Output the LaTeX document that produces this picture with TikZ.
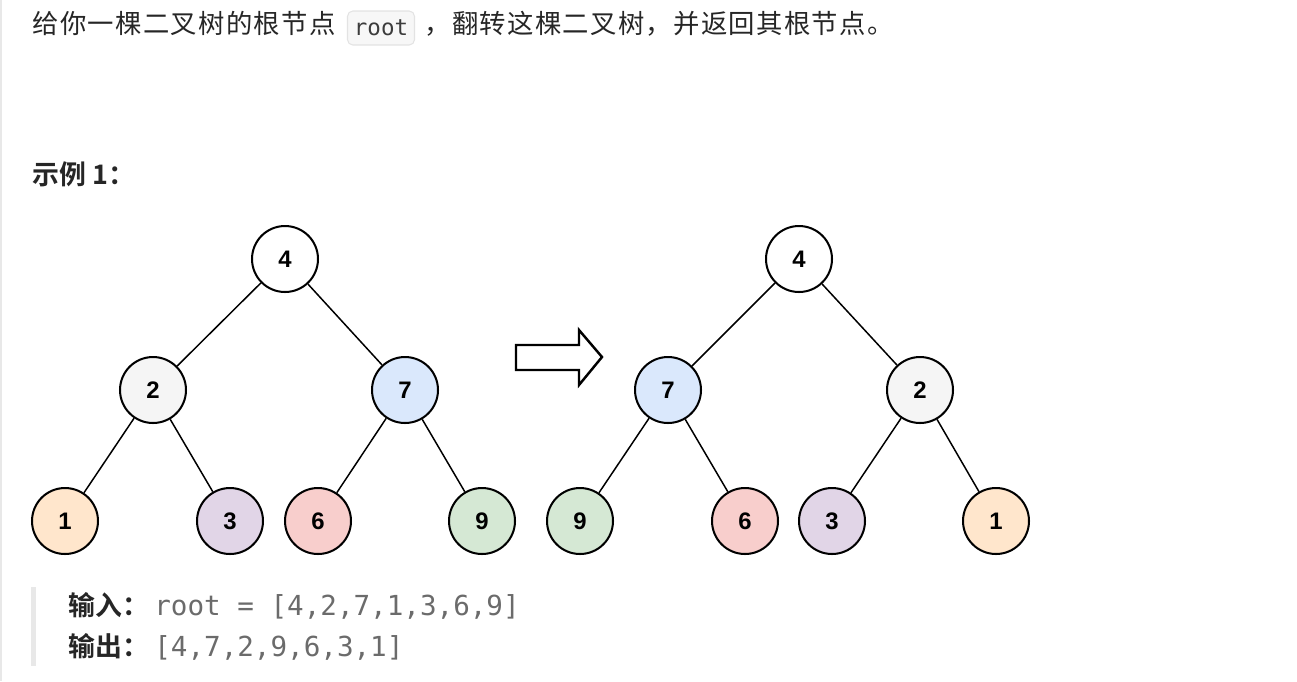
\documentclass[tikz,border=0pt]{standalone}
\usepackage{fontspec}
\usepackage{xcolor}
\usepackage{tikz}
\usetikzlibrary{positioning}
\setmainfont{Liberation Sans}
\setmonofont{DejaVu Sans Mono}
\newfontfamily\cjk[LetterSpace=5]{Noto Sans CJK SC}
\newfontfamily\cjkb{Noto Sans CJK SC Bold}

\definecolor{txt}{HTML}{262626}
\definecolor{codegray}{HTML}{6B6B6B}
\definecolor{codebg}{HTML}{F7F7F7}
\definecolor{codeline}{HTML}{E3E3E3}
\definecolor{barline}{HTML}{E8E8E8}
\definecolor{c1}{HTML}{FFE6CC}
\definecolor{c2}{HTML}{F5F5F5}
\definecolor{c3}{HTML}{E1D5E7}
\definecolor{c6}{HTML}{F8CECC}
\definecolor{c7}{HTML}{DAE8FC}
\definecolor{c9}{HTML}{D5E8D4}

\begin{document}
\begin{tikzpicture}[x=0.02cm,y=-0.02cm,
  tnode/.style={circle,draw=black,line width=1.15pt,minimum size=1.32cm,inner sep=0pt,
    font=\fontsize{13.6pt}{14pt}\selectfont\bfseries},
  tedge/.style={line width=0.85pt},
  line/.style={anchor=base west,inner sep=0pt,text=txt}]

    \useasboundingbox (0,0) rectangle (1297,681);
    \draw[barline,line width=1.2pt] (1,0) -- (1,681);

    % The text
    \node [line,font=\cjk\fontsize{15pt}{16pt}\selectfont] at (32,33) (t1) {给你一棵二叉树的根节点};
    \node [rounded corners=3pt,fill=codebg,draw=codeline,line width=0.6pt,
      minimum width=1.34cm,minimum height=0.68cm,inner sep=0pt,
      font=\ttfamily\fontsize{12.8pt}{14pt}\selectfont,text=txt!90] at (381,28) (code) {root};
    \node [line,font=\cjk\fontsize{15pt}{16pt}\selectfont] at (424,33) (t2) {，翻转这棵二叉树，并返回其根节点。};

    \node [line,font=\cjkb\fontsize{15.3pt}{16pt}\selectfont] at (32,184) (head) {示例 1：};

    % The input tree
    \node [tnode] at (285,259) (aR) {4};
    \node [tnode,fill=c2] at (153,390) (a2) {2};
    \node [tnode,fill=c7] at (405,390) (a7) {7};
    \node [tnode,fill=c1] at (65,521) (a1) {1};
    \node [tnode,fill=c3] at (230,521) (a3) {3};
    \node [tnode,fill=c6] at (318,521) (a6) {6};
    \node [tnode,fill=c9] at (482,521) (a9) {9};

    % Tree edges
    \path[tedge]
    (aR) edge (a2)
    (aR) edge (a7)
    (a2) edge (a1)
    (a2) edge (a3)
    (a7) edge (a6)
    (a7) edge (a9);

    % The arrow
    \draw[line width=1.4pt,line join=miter]
    (516,345) -- (579,345) -- (579,330) -- (602,357) -- (579,385) -- (579,370) -- (516,370) -- cycle;

    % The output tree
    \node [tnode] at (799,259) (bR) {4};
    \node [tnode,fill=c7] at (668,390) (b7) {7};
    \node [tnode,fill=c2] at (920,390) (b2) {2};
    \node [tnode,fill=c9] at (580,521) (b9) {9};
    \node [tnode,fill=c6] at (745,521) (b6) {6};
    \node [tnode,fill=c3] at (832,521) (b3) {3};
    \node [tnode,fill=c1] at (996,521) (b1) {1};

    % Tree edges
    \path[tedge]
    (bR) edge (b7)
    (bR) edge (b2)
    (b7) edge (b9)
    (b7) edge (b6)
    (b2) edge (b3)
    (b2) edge (b1);

    % Input and output
    \fill[barline] (31,587) rectangle (36,666);
    \node [line,font=\cjkb\fontsize{15.3pt}{16pt}\selectfont] at (68,615) (inl) {输入：};
    \node [line,font=\ttfamily\fontsize{15.7pt}{16pt}\selectfont,text=codegray] at (154,615) (inv) {root = [4,2,7,1,3,6,9]};
    \node [line,font=\cjkb\fontsize{15.3pt}{16pt}\selectfont] at (68,656) (outl) {输出：};
    \node [line,font=\ttfamily\fontsize{15.7pt}{16pt}\selectfont,text=codegray] at (154,656) (outv) {[4,7,2,9,6,3,1]};

\end{tikzpicture}
\end{document}
